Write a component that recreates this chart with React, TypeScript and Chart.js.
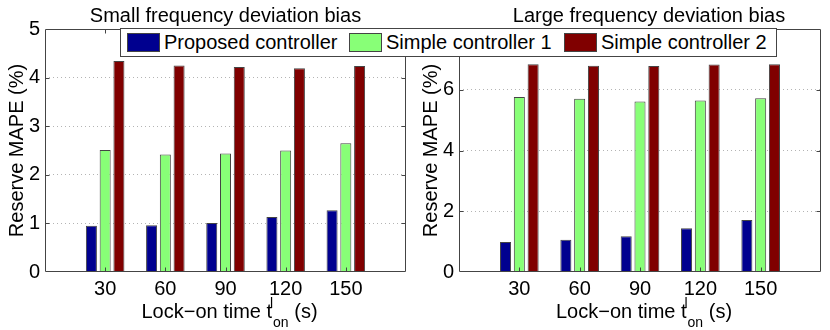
import React, { useEffect, useRef } from 'react';
import { Chart, registerables } from 'chart.js';

Chart.register(...registerables);

const FONT = '"Liberation Sans", Arial, Helvetica, sans-serif';

// x axis: limits 0..180, bars at the lock-on times
const lockOnTimes = ['30', '60', '90', '120', '150'];
const xLimitLabels = ['0', '180'];

const seriesNames = ['Proposed controller', 'Simple controller 1', 'Simple controller 2'];
const seriesColors = ['#00008F', '#88FF77', '#800000'];

// Small frequency deviation bias
const smallProposed = [0.95, 0.96, 1.01, 1.13, 1.27];
const smallSimple1 = [2.51, 2.42, 2.44, 2.5, 2.65];
const smallSimple2 = [4.34, 4.25, 4.22, 4.19, 4.24];

// Large frequency deviation bias
const largeProposed = [0.99, 1.06, 1.18, 1.44, 1.71];
const largeSimple1 = [5.76, 5.7, 5.61, 5.65, 5.72];
const largeSimple2 = [6.84, 6.79, 6.78, 6.83, 6.84];

// [min, max, step, show label at max]
const smallYRange = [0, 5, 1, 1];
const largeYRange = [0, 8, 2, 0];

const titles = ['Small frequency deviation bias', 'Large frequency deviation bias'];
const yTitle = 'Reserve MAPE (%)';
const xTitleMain = 'Lock\u2212on time t';
const xTitleSup = 'l';
const xTitleSub = 'on';
const xTitleEnd = ' (s)';

const FRAME = '#444';

const decorPlugin = {
  id: 'matlabDecor',
  afterDraw(chart: any, _args: any, opts: any) {
    const { ctx, chartArea: a, scales } = chart;
    const xs = scales.x;
    const ys = scales.y;
    const L = Math.round(a.left) + 0.5;
    const R = Math.round(a.right) - 0.5;
    const T = Math.round(a.top) + 0.5;
    const B = Math.round(a.bottom) - 0.5;
    ctx.save();
    ctx.strokeStyle = FRAME;
    ctx.lineWidth = 1;
    ctx.beginPath();
    ctx.rect(L, T, R - L, B - T);
    // inward tick marks
    const tl = 4;
    ys.ticks.forEach((t: any) => {
      if (t.value <= ys.min || t.value >= ys.max) return;
      const py = Math.round(ys.getPixelForValue(t.value)) + 0.5;
      ctx.moveTo(L, py);
      ctx.lineTo(L + tl, py);
      ctx.moveTo(R, py);
      ctx.lineTo(R - tl, py);
    });
    const n = xs.ticks.length;
    for (let i = 1; i < n - 1; i++) {
      const px = Math.round(xs.getPixelForTick(i)) + 0.5;
      ctx.moveTo(px, B);
      ctx.lineTo(px, B - tl);
      ctx.moveTo(px, T);
      ctx.lineTo(px, T + tl);
    }
    ctx.stroke();

    ctx.fillStyle = '#000';
    ctx.font = `20px ${FONT}`;
    ctx.textBaseline = 'alphabetic';
    ctx.textAlign = 'center';
    const cx = (a.left + a.right) / 2;
    ctx.fillText(opts.title, cx + opts.titleOffset, 22);

    // y title
    ctx.save();
    ctx.translate(opts.yTitleX, (a.top + a.bottom) / 2);
    ctx.rotate(-Math.PI / 2);
    ctx.textAlign = 'center';
    ctx.fillText(yTitle, 0, 0);
    ctx.restore();

    // x title with superscript / subscript
    ctx.textAlign = 'left';
    ctx.font = `20px ${FONT}`;
    const wMain = ctx.measureText(xTitleMain).width;
    const wEnd = ctx.measureText(xTitleEnd).width;
    ctx.font = `14px ${FONT}`;
    const wSub = Math.max(ctx.measureText(xTitleSub).width, ctx.measureText(xTitleSup).width);
    const total = wMain + 1 + wSub + wEnd;
    let sx = cx + 4 - total / 2;
    const base = 318;
    ctx.font = `20px ${FONT}`;
    ctx.fillText(xTitleMain, sx, base);
    sx += wMain + 1;
    ctx.font = `14px ${FONT}`;
    ctx.fillText(xTitleSup, sx - 3, base - 10);
    ctx.fillText(xTitleSub, sx, base + 9);
    sx += wSub;
    ctx.font = `20px ${FONT}`;
    ctx.fillText(xTitleEnd, sx, base);
    ctx.restore();
  },
};

function buildConfig(values: number[][], yRange: number[], title: string, titleOffset: number, yAxisWidth: number, yTitleX: number) {
  const labels = [xLimitLabels[0], ...lockOnTimes, xLimitLabels[1]];
  const datasets = values.map((v, i) => ({
    label: seriesNames[i],
    data: [null, ...v, null],
    backgroundColor: seriesColors[i],
    borderColor: FRAME,
    borderWidth: 1,
    categoryPercentage: 0.686,
    barPercentage: 0.8,
  }));
  return {
    type: 'bar' as const,
    data: { labels, datasets },
    plugins: [decorPlugin],
    options: {
      animation: false,
      responsive: true,
      maintainAspectRatio: false,
      layout: { padding: { top: 29, right: 9, left: 0, bottom: 0 } },
      plugins: {
        legend: { display: false },
        title: { display: false },
        tooltip: { enabled: false },
        matlabDecor: { title, titleOffset, yTitleX },
      },
      scales: {
        x: {
          type: 'category',
          offset: false,
          grid: { display: false, drawTicks: false },
          border: { display: false },
          ticks: {
            autoSkip: false,
            maxRotation: 0,
            minRotation: 0,
            padding: 5,
            color: '#000',
            font: { family: FONT, size: 20 },
            callback: (_v: any, idx: number) => (idx === 0 || idx === labels.length - 1 ? '' : labels[idx]),
          },
          afterFit: (s: any) => {
            s.height = 58;
          },
        },
        y: {
          min: yRange[0],
          max: yRange[1],
          grid: {
            drawTicks: false,
            color: (c: any) => (c.tick && c.tick.value > yRange[0] && c.tick.value < yRange[1] ? '#b4b4b4' : 'rgba(0,0,0,0)'),
          },
          border: { display: false, dash: [1, 3] },
          ticks: {
            stepSize: yRange[2],
            padding: 5,
            color: '#000',
            font: { family: FONT, size: 20 },
            callback: (v: any) => (v === yRange[1] && !yRange[3] ? '' : String(v)),
          },
          afterFit: (s: any) => {
            s.width = yAxisWidth;
          },
        },
      },
    },
  };
}

function Panel(props: { left: number; config: any }) {
  const ref = useRef<HTMLCanvasElement>(null);
  useEffect(() => {
    const chart = new Chart(ref.current as HTMLCanvasElement, props.config);
    return () => chart.destroy();
  }, []);
  return (
    <div style={{ position: 'absolute', left: props.left, top: 0, width: 415, height: 330 }}>
      <canvas ref={ref} />
    </div>
  );
}

const legendLefts = [127, 349, 564];

export default function App() {
  const leftCfg = buildConfig([smallProposed, smallSimple1, smallSimple2], smallYRange, titles[0], 0, 45, 22.7);
  const rightCfg = buildConfig([largeProposed, largeSimple1, largeSimple2], largeYRange, titles[1], 9, 44, 21.7);
  return (
    <div style={{ position: 'fixed', left: 0, top: 0, width: 830, height: 330, background: '#fff', overflow: 'hidden' }}>
      <Panel left={0} config={leftCfg} />
      <Panel left={415} config={rightCfg} />
      <div
        style={{
          position: 'absolute',
          left: 120,
          top: 28,
          width: 657,
          height: 29,
          boxSizing: 'border-box',
          border: `1px solid ${FRAME}`,
          background: '#fff',
          fontFamily: FONT,
          fontSize: 20,
          color: '#000',
        }}
      >
        {seriesNames.map((name, i) => (
          <div
            key={name}
            style={{ position: 'absolute', left: legendLefts[i] - 121, top: 0, height: 27, display: 'flex', alignItems: 'center', whiteSpace: 'nowrap' }}
          >
            <span
              style={{
                display: 'inline-block',
                width: 33,
                height: 19,
                boxSizing: 'border-box',
                border: `1px solid ${FRAME}`,
                background: seriesColors[i],
                marginRight: 4,
              }}
            />
            <span style={{ lineHeight: '27px' }}>{name}</span>
          </div>
        ))}
      </div>
    </div>
  );
}
